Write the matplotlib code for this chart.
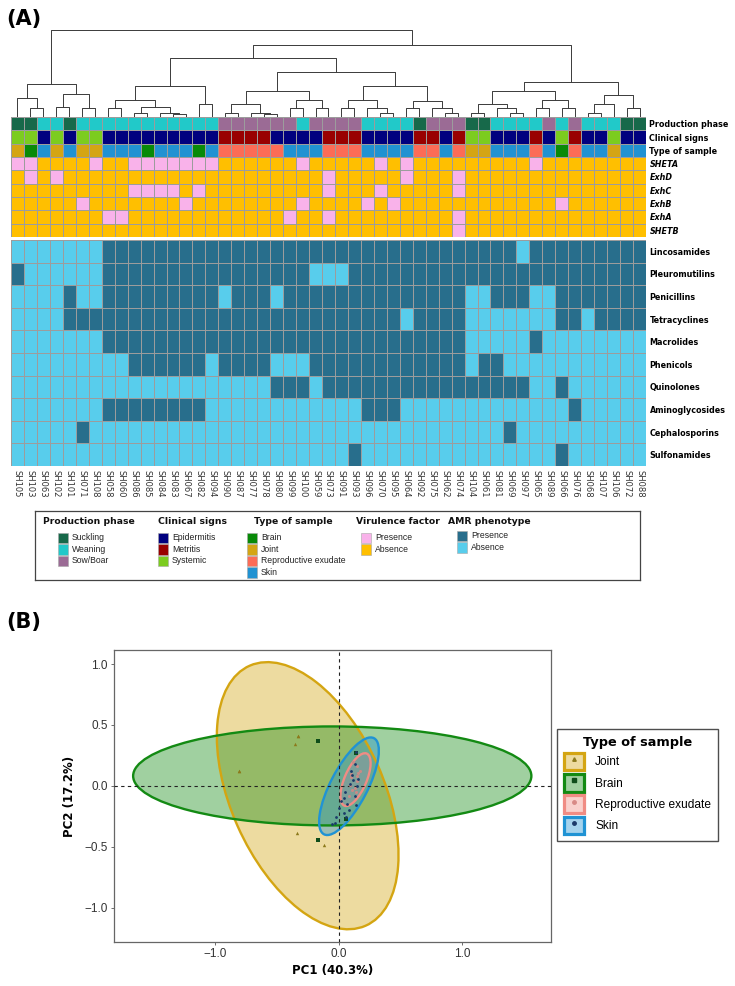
import numpy as np
import matplotlib
matplotlib.use("Agg")
import matplotlib.pyplot as plt
from matplotlib.colors import ListedColormap, to_rgba
from matplotlib.patches import Patch, Ellipse, Rectangle
from matplotlib.lines import Line2D

# ---------------- data ----------------
samples = ["SH105", "SH103", "SH063", "SH102", "SH101", "SH071", "SH108",
           "SH058", "SH060", "SH086", "SH085", "SH084", "SH083", "SH067",
           "SH082", "SH094", "SH090", "SH087", "SH077", "SH078", "SH080",
           "SH099", "SH100", "SH059", "SH073", "SH091", "SH093", "SH096",
           "SH070", "SH095", "SH064", "SH092", "SH075", "SH062", "SH074",
           "SH104", "SH061", "SH081", "SH069", "SH097", "SH065", "SH089",
           "SH066", "SH076", "SH068", "SH107", "SH106", "SH072", "SH088"]

production = ["Suckling", "Suckling", "Weaning", "Weaning", "Suckling", "Weaning", "Weaning",
              "Weaning", "Weaning", "Weaning", "Weaning", "Weaning", "Weaning", "Weaning",
              "Weaning", "Weaning", "Sow/Boar", "Sow/Boar", "Sow/Boar", "Sow/Boar", "Sow/Boar",
              "Sow/Boar", "Weaning", "Sow/Boar", "Sow/Boar", "Sow/Boar", "Sow/Boar", "Weaning",
              "Weaning", "Weaning", "Weaning", "Suckling", "Sow/Boar", "Sow/Boar", "Sow/Boar",
              "Suckling", "Suckling", "Weaning", "Weaning", "Weaning", "Weaning", "Sow/Boar",
              "Weaning", "Sow/Boar", "Weaning", "Weaning", "Weaning", "Suckling", "Suckling"]

clinical = ["Systemic", "Systemic", "Epidermitis", "Systemic", "Epidermitis", "Systemic", "Systemic",
            "Epidermitis", "Epidermitis", "Epidermitis", "Epidermitis", "Epidermitis", "Epidermitis", "Epidermitis",
            "Epidermitis", "Epidermitis", "Metritis", "Metritis", "Metritis", "Metritis", "Epidermitis",
            "Epidermitis", "Epidermitis", "Epidermitis", "Metritis", "Metritis", "Metritis", "Epidermitis",
            "Epidermitis", "Epidermitis", "Epidermitis", "Metritis", "Metritis", "Epidermitis", "Metritis",
            "Systemic", "Systemic", "Epidermitis", "Epidermitis", "Epidermitis", "Metritis", "Epidermitis",
            "Systemic", "Metritis", "Epidermitis", "Epidermitis", "Systemic", "Epidermitis", "Epidermitis"]

sample_type = ["Joint", "Brain", "Skin", "Joint", "Skin", "Joint", "Joint",
               "Skin", "Skin", "Skin", "Brain", "Skin", "Skin", "Skin",
               "Brain", "Skin", "Reproductive exudate", "Reproductive exudate", "Reproductive exudate",
               "Reproductive exudate", "Reproductive exudate",
               "Skin", "Skin", "Skin", "Reproductive exudate", "Reproductive exudate", "Reproductive exudate", "Skin",
               "Skin", "Skin", "Skin", "Reproductive exudate", "Reproductive exudate", "Skin", "Reproductive exudate",
               "Joint", "Joint", "Skin", "Skin", "Skin", "Reproductive exudate", "Skin",
               "Brain", "Reproductive exudate", "Skin", "Skin", "Joint", "Skin", "Skin"]

virulence_genes = ["SHETA", "ExhD", "ExhC", "ExhB", "ExhA", "SHETB"]
SHETA = [1, 1, 0, 0, 0, 0, 1,  0, 0, 1, 1, 1, 1, 1,  1, 1, 0, 0, 0, 0, 0,  0, 1, 0, 0, 0, 0, 0,
         1, 0, 1, 0, 0, 0, 0,  0, 0, 0, 0, 0, 1, 0,  0, 0, 0, 0, 0, 0, 0]
ExhD = [0, 1, 0, 1, 0, 0, 0,  0, 0, 0, 0, 0, 0, 0,  0, 0, 0, 0, 0, 0, 0,  0, 0, 0, 1, 0, 0, 0,
        0, 0, 1, 0, 0, 0, 1,  0, 0, 0, 0, 0, 0, 0,  0, 0, 0, 0, 0, 0, 0]
ExhC = [0, 0, 0, 0, 0, 0, 0,  0, 0, 1, 1, 1, 1, 0,  1, 0, 0, 0, 0, 0, 0,  0, 0, 0, 1, 0, 0, 0,
        1, 0, 0, 0, 0, 0, 1,  0, 0, 0, 0, 0, 0, 0,  0, 0, 0, 0, 0, 0, 0]
ExhB = [0, 0, 0, 0, 0, 1, 0,  0, 0, 0, 0, 0, 0, 1,  0, 0, 0, 0, 0, 0, 0,  0, 1, 0, 0, 0, 0, 1,
        0, 1, 0, 0, 0, 0, 0,  0, 0, 0, 0, 0, 0, 0,  1, 0, 0, 0, 0, 0, 0]
ExhA = [0, 0, 0, 0, 0, 0, 0,  1, 1, 0, 0, 0, 0, 0,  0, 0, 0, 0, 0, 0, 0,  1, 0, 0, 1, 0, 0, 0,
        0, 0, 0, 0, 0, 0, 1,  0, 0, 0, 0, 0, 0, 0,  0, 0, 0, 0, 0, 0, 0]
SHETB = [0, 0, 0, 0, 0, 0, 0,  0, 0, 0, 0, 0, 0, 0,  0, 0, 0, 0, 0, 0, 0,  0, 0, 0, 0, 0, 0, 0,
         0, 0, 0, 0, 0, 0, 1,  0, 0, 0, 0, 0, 0, 0,  0, 0, 0, 0, 0, 0, 0]

antibiotics = ["Lincosamides", "Pleuromutilins", "Penicillins", "Tetracyclines", "Macrolides",
               "Phenicols", "Quinolones", "Aminoglycosides", "Cephalosporins", "Sulfonamides"]
Lincosamides = [0, 0, 0, 0, 0, 0, 0,  1, 1, 1, 1, 1, 1, 1,  1, 1, 1, 1, 1, 1, 1,  1, 1, 1, 1, 1, 1, 1,
                1, 1, 1, 1, 1, 1, 1,  1, 1, 1, 1, 0, 1, 1,  1, 1, 1, 1, 1, 1, 1]
Pleuromutilins = [1, 0, 0, 0, 0, 0, 0,  1, 1, 1, 1, 1, 1, 1,  1, 1, 1, 1, 1, 1, 1,  1, 1, 0, 0, 0, 1, 1,
                  1, 1, 1, 1, 1, 1, 1,  1, 1, 1, 1, 1, 1, 1,  1, 1, 1, 1, 1, 1, 1]
Penicillins = [0, 0, 0, 0, 1, 0, 0,  1, 1, 1, 1, 1, 1, 1,  1, 1, 0, 1, 1, 1, 0,  1, 1, 1, 1, 1, 1, 1,
               1, 1, 1, 1, 1, 1, 1,  0, 0, 1, 1, 1, 0, 0,  1, 1, 1, 1, 1, 1, 1]
Tetracyclines = [0, 0, 0, 0, 1, 1, 1,  1, 1, 1, 1, 1, 1, 1,  1, 1, 1, 1, 1, 1, 1,  1, 1, 1, 1, 1, 1, 1,
                 1, 1, 0, 1, 1, 1, 1,  0, 0, 0, 0, 0, 0, 0,  1, 1, 0, 1, 1, 1, 1]
Macrolides = [0, 0, 0, 0, 0, 0, 0,  1, 1, 1, 1, 1, 1, 1,  1, 1, 1, 1, 1, 1, 1,  1, 1, 1, 1, 1, 1, 1,
              1, 1, 1, 1, 1, 1, 1,  0, 0, 0, 0, 0, 1, 0,  0, 0, 0, 0, 0, 0, 0]
Phenicols = [0, 0, 0, 0, 0, 0, 0,  0, 0, 1, 1, 1, 1, 1,  1, 0, 1, 1, 1, 1, 0,  0, 0, 1, 1, 1, 1, 1,
             1, 1, 1, 1, 1, 1, 1,  0, 1, 1, 0, 0, 0, 0,  0, 0, 0, 0, 0, 0, 0]
Quinolones = [0, 0, 0, 0, 0, 0, 0,  0, 0, 0, 0, 0, 0, 0,  0, 0, 0, 0, 0, 0, 1,  1, 1, 0, 1, 1, 1, 1,
              1, 1, 1, 1, 1, 1, 1,  1, 1, 1, 1, 1, 0, 0,  1, 0, 0, 0, 0, 0, 0]
Aminoglycosides = [0, 0, 0, 0, 0, 0, 0,  1, 1, 1, 1, 1, 1, 1,  1, 0, 0, 0, 0, 0, 0,  0, 0, 0, 0, 0, 0, 1,
                   1, 1, 0, 0, 0, 0, 0,  0, 0, 0, 0, 0, 0, 0,  0, 1, 0, 0, 0, 0, 0]
Cephalosporins = [0, 0, 0, 0, 0, 1, 0,  0, 0, 0, 0, 0, 0, 0,  0, 0, 0, 0, 0, 0, 0,  0, 0, 0, 0, 0, 0, 0,
                  0, 0, 0, 0, 0, 0, 0,  0, 0, 0, 1, 0, 0, 0,  0, 0, 0, 0, 0, 0, 0]
Sulfonamides = [0, 0, 0, 0, 0, 0, 0,  0, 0, 0, 0, 0, 0, 0,  0, 0, 0, 0, 0, 0, 0,  0, 0, 0, 0, 0, 1, 0,
                0, 0, 0, 0, 0, 0, 0,  0, 0, 0, 0, 0, 0, 0,  1, 0, 0, 0, 0, 0, 0]

# dendrogram: nested [height, left, right]; leaves are column indices in display order
dendro_tree = [1.0,
               [0.38, [0.22, 0, [0.1, 1, 2]], [0.26, [0.12, 3, 4], [0.1, 5, 6]]],
               [0.83,
                [0.68,
                 [0.36, [0.2, [0.1, 7, 8], [0.12, [0.05, 9, 10], [0.05, 11, [0.03, 12, 13]]]], [0.15, 14, 15]],
                 [0.52,
                  [0.3, [0.15, [0.05, 16, 17], [0.05, 18, [0.03, 19, 20]]], [0.2, [0.1, 21, 22], [0.1, 23, 24]]],
                  [0.36, [0.2, [0.1, 25, 26], [0.1, 27, [0.05, 28, 29]]],
                   [0.18, [0.1, 30, 31], [0.1, 32, [0.05, 33, 34]]]]]],
                [0.4,
                 [0.3, [0.15, [0.05, 35, 36], [0.1, 37, [0.05, 38, 39]]], [0.2, [0.1, 40, 41], [0.1, 42, 43]]],
                 [0.25, [0.15, [0.05, 44, 45], 46], [0.1, 47, 48]]]]]

# PCA (panel B)
pca_groups = ["Joint", "Brain", "Reproductive exudate", "Skin"]
joint_pc1 = [-0.33, -0.35, -0.81, -0.335, -0.12, -0.33, -0.81]
joint_pc2 = [0.41, 0.34, 0.125, -0.39, -0.485, 0.41, 0.125]
brain_pc1 = [-0.17, -0.17, 0.14, 0.06]
brain_pc2 = [0.365, -0.44, 0.27, -0.27]
repro_pc1 = [0.15, 0.16, 0.10, 0.15, 0.09, 0.11, 0.14, 0.08, 0.17, 0.12, 0.13, 0.15, 0.10]
repro_pc2 = [0.16, 0.11, 0.07, 0.04, 0.01, -0.03, -0.05, -0.08, 0.12, 0.20, -0.02, 0.08, 0.10]
skin_pc1 = [0.14, 0.14, 0.06, -0.02, -0.055, 0.10, 0.12, 0.04, 0.0, -0.03, 0.08, 0.13, 0.15,
            0.11, 0.05, 0.02, 0.09, 0.16, 0.07, 0.13, 0.04]
skin_pc2 = [0.275, -0.155, -0.255, -0.255, -0.315, 0.12, 0.05, -0.1, -0.18, -0.3, -0.2, 0.18, 0.0,
            0.09, -0.05, -0.12, 0.02, 0.06, -0.15, -0.08, -0.22]
# ellipse parameters (centre x, centre y, width, height, angle)
ell_joint = [-0.251, -0.08, 2.33, 1.24, 113.7]
ell_brain = [-0.052, 0.082, 3.226, 0.812, 0.0]
ell_repro = [0.1365, 0.052, 0.464, 0.178, 67.0]
ell_skin = [0.0835, -0.0025, 0.886, 0.30, 62.9]

# ---------------- colours ----------------
prod_colors = {"Suckling": "#17694a", "Weaning": "#21c9c9", "Sow/Boar": "#9b6b95"}
clin_colors = {"Epidermitis": "#00007f", "Metritis": "#990000", "Systemic": "#7ccc1f"}
type_colors = {"Brain": "#088a08", "Joint": "#d4a514", "Reproductive exudate": "#fc6c57", "Skin": "#2092d2"}
vir_colors = {1: "#f9b2ea", 0: "#ffbf00"}
amr_colors = {1: "#286e8c", 0: "#58cdec"}
grid_col = "#9c9c9c"

plt.rcParams["font.family"] = ["DejaVu Sans"]

W, H = 735, 986
fig = plt.figure(figsize=(W / 100, H / 100), dpi=100)


def fax(x0, y0, x1, y1):
    return fig.add_axes([x0 / W, 1 - y1 / H, (x1 - x0) / W, (y1 - y0) / H])


ncol = len(samples)
HX0, HX1 = 11, 646

# ---------------- dendrogram ----------------
axd = fax(HX0, 28, HX1, 117)


def draw_node(node):
    if isinstance(node, int):
        return node + 0.5, 0.0
    h, l, r = node
    xl, hl = draw_node(l)
    xr, hr = draw_node(r)
    axd.plot([xl, xl, xr, xr], [hl, h, h, hr], color="#3a3a3a", lw=0.7, solid_capstyle="butt")
    return (xl + xr) / 2, h


draw_node(dendro_tree)
axd.set_xlim(0, ncol)
axd.set_ylim(0, dendro_tree[0] / 0.975)
axd.axis("off")

# ---------------- annotation + virulence heatmap ----------------
palette = (list(prod_colors.values()) + list(clin_colors.values()) +
           list(type_colors.values()) + [vir_colors[1], vir_colors[0]])
cmap_top = ListedColormap(palette)
pk = list(prod_colors.keys())
ck = list(clin_colors.keys())
tk = list(type_colors.keys())
rows_top = [[pk.index(v) for v in production],
            [3 + ck.index(v) for v in clinical],
            [6 + tk.index(v) for v in sample_type]]
for gene in [SHETA, ExhD, ExhC, ExhB, ExhA, SHETB]:
    rows_top.append([10 if v == 1 else 11 for v in gene])
mat_top = np.array(rows_top)

axt = fax(HX0, 117, HX1, 237)
axt.pcolormesh(np.arange(ncol + 1), np.arange(len(rows_top) + 1), mat_top, cmap=cmap_top,
               vmin=-0.5, vmax=len(palette) - 0.5, edgecolors=grid_col, linewidth=0.45)
axt.set_xlim(0, ncol)
axt.set_ylim(len(rows_top), 0)
axt.set_xticks([])
top_labels = ["Production phase", "Clinical signs", "Type of sample"] + virulence_genes
axt.yaxis.tick_right()
axt.set_yticks(np.arange(len(top_labels)) + 0.5)
axt.set_yticklabels(top_labels, fontsize=5.8, fontweight="bold")
for i, t in enumerate(axt.get_yticklabels()):
    if i >= 3:
        t.set_fontstyle("italic")
axt.tick_params(axis="y", length=0, pad=2.5)
for s in axt.spines.values():
    s.set_visible(False)

# ---------------- AMR heatmap ----------------
amr = np.array([Lincosamides, Pleuromutilins, Penicillins, Tetracyclines, Macrolides,
                Phenicols, Quinolones, Aminoglycosides, Cephalosporins, Sulfonamides])
axa = fax(HX0, 240, HX1, 466)
axa.pcolormesh(np.arange(ncol + 1), np.arange(len(antibiotics) + 1), amr,
               cmap=ListedColormap([amr_colors[0], amr_colors[1]]), vmin=0, vmax=1,
               edgecolors=grid_col, linewidth=0.45)
axa.set_xlim(0, ncol)
axa.set_ylim(len(antibiotics), 0)
axa.yaxis.tick_right()
axa.set_yticks(np.arange(len(antibiotics)) + 0.5)
axa.set_yticklabels(antibiotics, fontsize=5.8, fontweight="bold")
axa.set_xticks(np.arange(ncol) + 0.5)
axa.set_xticklabels(samples, rotation=270, fontsize=6.0, color="#333333")
axa.tick_params(axis="both", length=0, pad=3)
axa.tick_params(axis="y", pad=2.5)
for s in axa.spines.values():
    s.set_visible(False)

# ---------------- legend panel (A) ----------------
LX0, LX1, LY0, LY1 = 35, 640, 511, 580
axl = fax(LX0, LY0, LX1, LY1)
axl.set_xlim(LX0, LX1)
axl.set_ylim(LY1, LY0)
axl.set_xticks([])
axl.set_yticks([])
for s in axl.spines.values():
    s.set_color("#444444")
    s.set_linewidth(0.9)

legend_groups = [("Production phase", prod_colors, 43, 58, 0),
                 ("Clinical signs", clin_colors, 158, 158, 0),
                 ("Type of sample", type_colors, 254, 247, 0),
                 ("Virulence factor", {"Presence": vir_colors[1], "Absence": vir_colors[0]}, 356, 361, 0),
                 ("AMR phenotype", {"Presence": amr_colors[1], "Absence": amr_colors[0]}, 448, 457, -2)]
for title, cd, tx, sx, dy in legend_groups:
    axl.text(tx, 522, title, fontweight="bold", fontsize=6.7, va="center", ha="left", color="#111111")
    for k, (lab, col) in enumerate(cd.items()):
        yc = 538 + dy + k * 11.4
        axl.add_patch(Rectangle((sx, yc - 5.3), 10, 10.6, facecolor=col, edgecolor="#a8a8a8", lw=0.4))
        axl.text(sx + 14, yc, lab, fontsize=6.2, family="Liberation Sans", va="center", ha="left",
                 color="#222222")

# ---------------- panel labels ----------------
fig.text(6 / W, 1 - 19 / H, "(A)", fontsize=15, fontweight="bold", va="center")
fig.text(6 / W, 1 - 622 / H, "(B)", fontsize=15, fontweight="bold", va="center")

# ---------------- PCA ----------------
axp = fax(114, 650, 551, 942)
gcol = {"Joint": "#d4a512", "Brain": "#138a13", "Reproductive exudate": "#f08c84", "Skin": "#2093d4"}
ells = {"Joint": ell_joint, "Brain": ell_brain, "Reproductive exudate": ell_repro, "Skin": ell_skin}
for g in pca_groups:
    cx, cy, w, h, a = ells[g]
    axp.add_patch(Ellipse((cx, cy), w, h, angle=a, facecolor=gcol[g], alpha=0.4, edgecolor="none", zorder=2))
    axp.add_patch(Ellipse((cx, cy), w, h, angle=a, facecolor="none", edgecolor=gcol[g], lw=1.7, zorder=3))
axp.axhline(0, color="#222222", lw=0.8, ls=(0, (3, 3)), zorder=4)
axp.axvline(0, color="#222222", lw=0.8, ls=(0, (3, 3)), zorder=4)
axp.scatter(joint_pc1, joint_pc2, marker="^", s=6, color="#8c7a1c", zorder=5, linewidths=0)
axp.scatter(brain_pc1, brain_pc2, marker="s", s=5, color="#0f4d1a", zorder=5, linewidths=0)
axp.scatter(repro_pc1, repro_pc2, marker="o", s=5, color="#c98a86", zorder=5, linewidths=0)
axp.scatter(skin_pc1, skin_pc2, marker="o", s=4, color="#1b3a6a", zorder=5, linewidths=0)
axp.set_xlim(-1.82, 1.72)
axp.set_ylim(-1.28, 1.115)
axp.set_xticks([-1.0, 0.0, 1.0])
axp.set_yticks([-1.0, -0.5, 0.0, 0.5, 1.0])
axp.set_xticklabels(["\u22121.0", "0.0", "1.0"], family="Liberation Sans", fontsize=8.5)
axp.set_yticklabels(["\u22121.0", "\u22120.5", "0.0", "0.5", "1.0"], family="Liberation Sans", fontsize=8.5)
axp.tick_params(length=2.5, width=0.6, color="#555555", labelcolor="#333333", pad=2)
for s in axp.spines.values():
    s.set_color("#666666")
    s.set_linewidth(0.9)
axp.set_xlabel("PC1 (40.3%)", fontsize=8.5, fontweight="bold", labelpad=3)
axp.set_ylabel("PC2 (17.2%)", fontsize=8.5, fontweight="bold", labelpad=6)

pmark = {"Joint": ("^", "#8c7a1c"), "Brain": ("s", "#0f4d1a"),
         "Reproductive exudate": ("o", "#d88a86"), "Skin": ("o", "#1b3a6a")}
lh = []
for g in pca_groups:
    p = Patch(facecolor=to_rgba(gcol[g], 0.4), edgecolor=gcol[g], linewidth=2.3)
    m = Line2D([], [], marker=pmark[g][0], color=pmark[g][1], ls="none", markersize=2.5)
    lh.append((p, m))
legp = fig.legend(lh, pca_groups, title="Type of sample", loc="upper left",
                  bbox_to_anchor=(557 / W, 1 - 729 / H), borderaxespad=0, frameon=True, fancybox=False,
                  edgecolor="#222222", alignment="center", handlelength=1.7, handleheight=1.9,
                  handletextpad=0.9, labelspacing=0.3, borderpad=0.6,
                  prop={"family": "Liberation Sans", "size": 8.6},
                  title_fontproperties={"weight": "bold", "size": 9.3, "family": "DejaVu Sans"})
legp.get_frame().set_linewidth(1.0)

fig.savefig("out.png", dpi=100)
